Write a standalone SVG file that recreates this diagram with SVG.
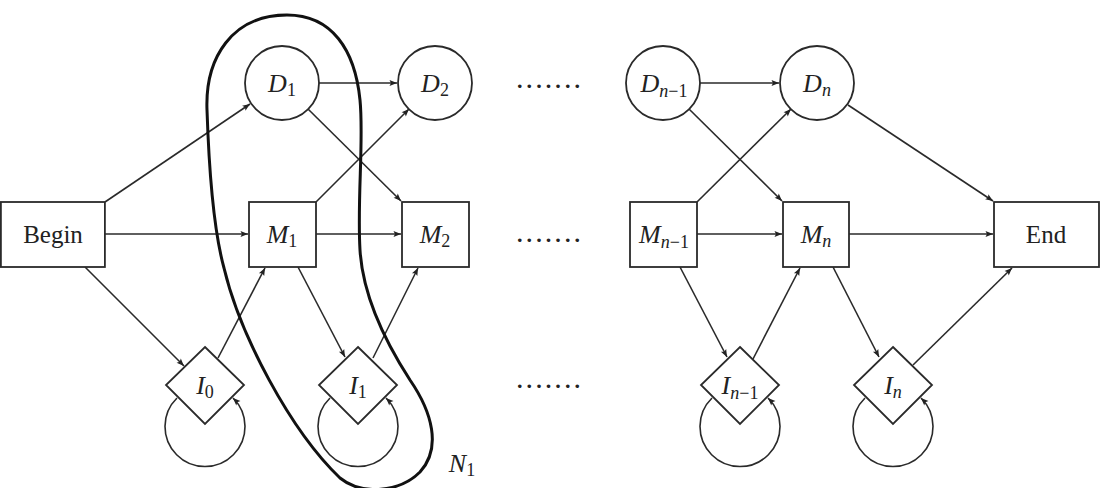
<svg xmlns="http://www.w3.org/2000/svg" width="1103" height="488" viewBox="0 0 1103 488">
<style>
.shape{fill:#fff;stroke:#2a2a2a;stroke-width:1.8}
.edge{fill:none;stroke:#2a2a2a;stroke-width:1.6}
.lbl{font-family:"Liberation Serif",serif;font-size:26px;fill:#222;text-anchor:middle}
.m{font-style:italic}
.sub{font-size:18px}
.word{font-family:"Liberation Serif",serif;font-size:25px;fill:#222;text-anchor:middle}
.dots{font-family:"Liberation Serif",serif;font-size:22px;font-weight:bold;fill:#222}
</style>
<defs>
<marker id="arr" viewBox="-8 -4 9 8" refX="0" refY="0" markerWidth="9" markerHeight="8" markerUnits="userSpaceOnUse" orient="auto">
<path d="M0,0 L-7.5,-3 L-6,0 L-7.5,3 Z" fill="#222"/>
</marker>
</defs>
<rect width="1103" height="488" fill="#fff"/>
<g id="connectors">
<line class="edge" x1="105" y1="202" x2="250" y2="104" marker-end="url(#arr)"/>
<line class="edge" x1="105" y1="234" x2="248" y2="234" marker-end="url(#arr)"/>
<line class="edge" x1="85" y1="267" x2="184" y2="366" marker-end="url(#arr)"/>
<line class="edge" x1="319" y1="83" x2="397" y2="83" marker-end="url(#arr)"/>
<line class="edge" x1="308" y1="109" x2="401" y2="201" marker-end="url(#arr)"/>
<line class="edge" x1="316" y1="202" x2="409" y2="109" marker-end="url(#arr)"/>
<line class="edge" x1="316" y1="234" x2="401" y2="234" marker-end="url(#arr)"/>
<line class="edge" x1="298" y1="267" x2="345" y2="357" marker-end="url(#arr)"/>
<line class="edge" x1="218" y1="358" x2="265" y2="268" marker-end="url(#arr)"/>
<line class="edge" x1="373" y1="358" x2="418" y2="268" marker-end="url(#arr)"/>
<line class="edge" x1="700" y1="83" x2="779" y2="83" marker-end="url(#arr)"/>
<line class="edge" x1="689" y1="109" x2="782" y2="201" marker-end="url(#arr)"/>
<line class="edge" x1="697" y1="202" x2="791" y2="109" marker-end="url(#arr)"/>
<line class="edge" x1="697" y1="234" x2="782" y2="234" marker-end="url(#arr)"/>
<line class="edge" x1="680" y1="267" x2="727" y2="357" marker-end="url(#arr)"/>
<line class="edge" x1="753" y1="359" x2="800" y2="268" marker-end="url(#arr)"/>
<line class="edge" x1="833" y1="267" x2="879" y2="357" marker-end="url(#arr)"/>
<line class="edge" x1="849" y1="234" x2="993" y2="234" marker-end="url(#arr)"/>
<line class="edge" x1="848" y1="105" x2="993" y2="201" marker-end="url(#arr)"/>
<line class="edge" x1="913" y1="365" x2="1012" y2="268" marker-end="url(#arr)"/>
<path class="edge" d="M177 398 A40 40 0 1 0 233 398" marker-end="url(#arr)"/>
<path class="edge" d="M330 398 A40 40 0 1 0 386 398" marker-end="url(#arr)"/>
<path class="edge" d="M712 398 A40 40 0 1 0 768 398" marker-end="url(#arr)"/>
<path class="edge" d="M865 398 A40 40 0 1 0 921 398" marker-end="url(#arr)"/>
</g>
<g id="Begin"><rect class="shape" x="0.9" y="202" width="104" height="65"/><text class="word" x="53" y="243">Begin</text></g>
<g id="End"><rect class="shape" x="994" y="202" width="105" height="65"/><text class="word" x="1046" y="243">End</text></g>
<g id="D1"><circle class="shape" cx="282" cy="83" r="37"/><text class="lbl" x="282" y="92"><tspan class="m">D</tspan><tspan class="sub" dy="4">1</tspan></text></g>
<g id="D2"><circle class="shape" cx="435" cy="83" r="37"/><text class="lbl" x="435" y="92"><tspan class="m">D</tspan><tspan class="sub" dy="4">2</tspan></text></g>
<g id="Dn-1"><circle class="shape" cx="663" cy="83" r="37"/><text class="lbl" x="664" y="92"><tspan class="m">D</tspan><tspan class="sub" dy="5"><tspan class="m">n</tspan>−1</tspan></text></g>
<g id="Dn"><circle class="shape" cx="817" cy="83" r="37"/><text class="lbl" x="817" y="92"><tspan class="m">D</tspan><tspan class="sub m" dy="4">n</tspan></text></g>
<g id="M1"><rect class="shape" x="249" y="202" width="67" height="65"/><text class="lbl" x="282" y="243"><tspan class="m">M</tspan><tspan class="sub" dy="4">1</tspan></text></g>
<g id="M2"><rect class="shape" x="402" y="202" width="67" height="65"/><text class="lbl" x="435" y="243"><tspan class="m">M</tspan><tspan class="sub" dy="4">2</tspan></text></g>
<g id="Mn-1"><rect class="shape" x="630" y="202" width="67" height="65"/><text class="lbl" x="664" y="243"><tspan class="m">M</tspan><tspan class="sub" dy="5"><tspan class="m">n</tspan>−1</tspan></text></g>
<g id="Mn"><rect class="shape" x="783" y="202" width="66" height="65"/><text class="lbl" x="816" y="243"><tspan class="m">M</tspan><tspan class="sub m" dy="4">n</tspan></text></g>
<g id="I0"><polygon class="shape" points="205,347 244,385 205,424 166,385"/><text class="lbl" x="205" y="394"><tspan class="m">I</tspan><tspan class="sub" dy="4">0</tspan></text></g>
<g id="I1"><polygon class="shape" points="358,347 397,385 358,424 319,385"/><text class="lbl" x="358" y="394"><tspan class="m">I</tspan><tspan class="sub" dy="4">1</tspan></text></g>
<g id="In-1"><polygon class="shape" points="740,347 779,385 740,424 701,385"/><text class="lbl" x="740" y="394"><tspan class="m">I</tspan><tspan class="sub" dy="5"><tspan class="m">n</tspan>−1</tspan></text></g>
<g id="In"><polygon class="shape" points="893,347 932,385 893,424 854,385"/><text class="lbl" x="893" y="394"><tspan class="m">I</tspan><tspan class="sub m" dy="4">n</tspan></text></g>
<g id="N1">
<path d="M287 15 C232 15 205 58 207 110 C209 170 213 228 224 268 C240 335 290 430 340 478 C362 496 400 492 420 472 C442 448 432 412 410 380 C388 346 363 300 360 250 C357 200 364 140 360 100 C355 50 332 15 287 15 Z" fill="none" stroke="#111" stroke-width="3"/>
<text class="lbl" x="462" y="472"><tspan class="m">N</tspan><tspan class="sub" dy="4">1</tspan></text>
</g>
<g id="dots">
<text class="dots" x="517" y="88" textLength="63" lengthAdjust="spacing">.......</text>
<text class="dots" x="517" y="242" textLength="63" lengthAdjust="spacing">.......</text>
<text class="dots" x="517" y="388" textLength="63" lengthAdjust="spacing">.......</text>
</g>
</svg>
